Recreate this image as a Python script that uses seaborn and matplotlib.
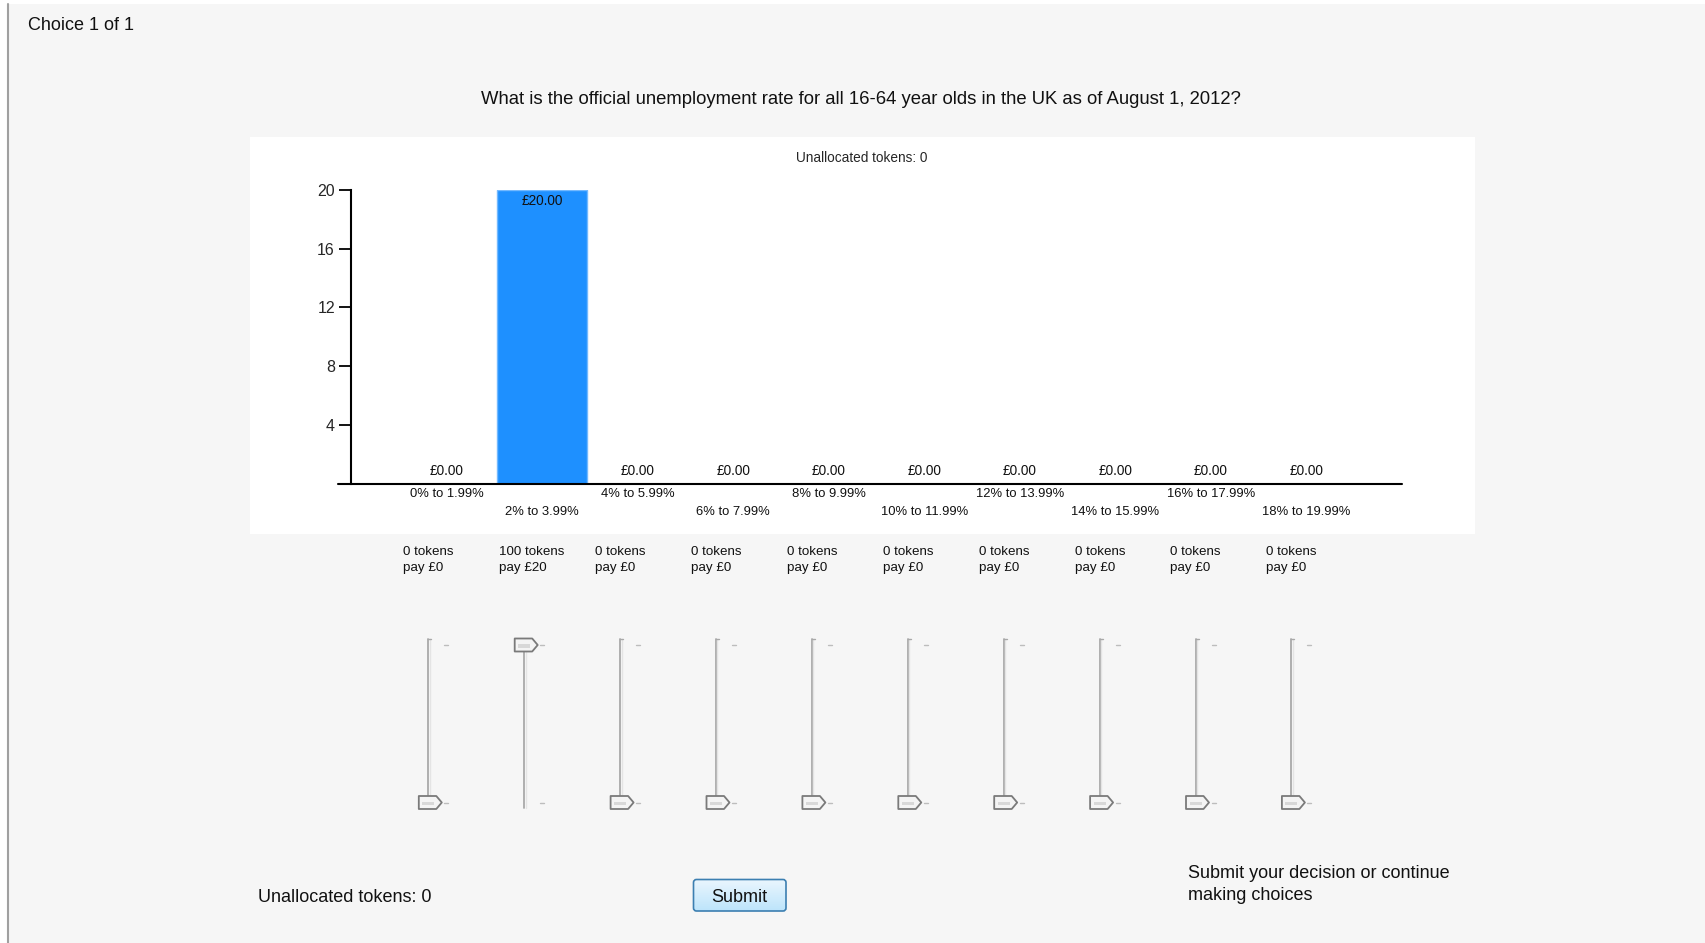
import numpy as np
import pandas as pd
import matplotlib
matplotlib.use('Agg')
import matplotlib.pyplot as plt
import seaborn as sns
from matplotlib.patches import Rectangle, Polygon, FancyBboxPatch

# Veriler
bins = ['0% to 1.99%', '2% to 3.99%', '4% to 5.99%', '6% to 7.99%', '8% to 9.99%',
        '10% to 11.99%', '12% to 13.99%', '14% to 15.99%', '16% to 17.99%', '18% to 19.99%']
tokens = [0, 100, 0, 0, 0, 0, 0, 0, 0, 0]
payout = [0, 20, 0, 0, 0, 0, 0, 0, 0, 0]   # £
y_ticks = [4, 8, 12, 16, 20]
unallocated = 0
question = 'What is the official unemployment rate for all 16-64 year olds in the UK as of August 1, 2012?'

df = pd.DataFrame({'bin': bins, 'payout': payout, 'tokens': tokens})

sns.set_style('white')
plt.rcParams['font.family'] = ['Liberation Sans', 'DejaVu Sans']

W, H = 1705, 943
fig = plt.figure(figsize=(W / 100, H / 100), dpi=100)
fig.patch.set_facecolor('white')

# arka plan (piksel koordinatlari)
bg = fig.add_axes([0, 0, 1, 1])
bg.set_xlim(0, W)
bg.set_ylim(H, 0)
bg.axis('off')
bg.add_patch(Rectangle((8, 4), W - 8, H - 4, facecolor='#f6f6f6', edgecolor='none'))
bg.plot([7.5, 7.5], [4, H], color='#a0a0a0', lw=1.5)
bg.add_patch(Rectangle((250, 137), 1225, 397, facecolor='white', edgecolor='none'))

bg.text(28, 25, 'Choice 1 of 1', fontsize=13, va='center', color='#111111')
bg.text(861, 99, question, fontsize=13.3, ha='center', va='center', color='#111111')
bg.text(862, 158, f'Unallocated tokens: {unallocated}', fontsize=9.8, ha='center', va='center')

# Grafik
ax = fig.add_axes([351 / W, 1 - 483.5 / H, 1051 / W, 293.5 / H])
sns.barplot(data=df, x='bin', y='payout', order=bins, width=0.94, color='#1e90ff',
            saturation=1, edgecolor='#73b9ff', linewidth=1, ax=ax)
ax.set_xlim(-1, 10)
ax.set_ylim(0, 20)
ax.set_facecolor('none')
for s in ['top', 'right', 'bottom']:
    ax.spines[s].set_visible(False)
ax.spines['left'].set_linewidth(1.5)
ax.spines['left'].set_color('black')
ax.axhline(0, xmin=-13 / 1051, xmax=1, color='black', lw=1.5, clip_on=False)
ax.set_yticks(y_ticks)
ax.tick_params(axis='y', length=8.6, width=1.3, pad=3, labelsize=11.5, color='black', left=True)
ax.tick_params(axis='x', length=0, labelbottom=False)
ax.set_xlabel('')
ax.set_ylabel('')

for i, v in enumerate(payout):
    off = -10.5 if v > 0 else 6.3
    ax.annotate(f'£{v:.2f}', (i, v), xytext=(0, off), textcoords='offset points',
                ha='center', va='baseline', fontsize=9.8, color='#111111')
for i, b in enumerate(bins):
    off = -7.8 if i % 2 == 0 else -20.3
    ax.annotate(b, (i, 0), xytext=(0, off), textcoords='offset points',
                ha='center', va='center', fontsize=9.4, annotation_clip=False, color='#111111')

# Kaydiricilar
for i, t in enumerate(tokens):
    tx = 428.3 + 95.9 * i
    p = payout[i]
    bg.text(tx - 25, 552, f'{t} tokens', fontsize=9.6, va='center', color='#111111')
    bg.text(tx - 25, 568.5, f'pay £{p}', fontsize=9.6, va='center', color='#111111')
    yc = 802.5 - 157.5 * t / 100
    bg.plot([tx, tx], [639, 808], color='#a9a9a9', lw=1.3)
    bg.plot([tx + 1.4, tx + 1.4], [639, 808], color='#e4e4e4', lw=1.0)
    bg.plot([tx, tx + 3], [639, 639], color='#a9a9a9', lw=1)
    bg.plot([tx + 16, tx + 20], [645, 645], color='#bdbdbd', lw=1)
    bg.plot([tx + 16, tx + 20], [802.5, 802.5], color='#bdbdbd', lw=1)
    pts = [(tx - 9.5, yc - 6.5), (tx + 8, yc - 6.5), (tx + 13.5, yc), (tx + 8, yc + 6.5), (tx - 9.5, yc + 6.5)]
    bg.add_patch(Polygon(pts, closed=True, facecolor='#f4f4f4', edgecolor='#7a7a7a',
                         lw=1.3, joinstyle='round', zorder=3))
    bg.add_patch(Rectangle((tx - 6, yc - 1), 12, 3.5, facecolor='#d8d8d8', edgecolor='none', zorder=4))

# Alt kisim
bg.text(257.5, 897, f'Unallocated tokens: {unallocated}', fontsize=13, va='center', color='#111111')

btn = FancyBboxPatch((693.5, 879.5), 92.5, 31.5, boxstyle='round,pad=0,rounding_size=3',
                     facecolor='none', edgecolor='#3c7fb1', lw=1.2, zorder=5)
grad = np.linspace(0, 1, 50)[:, None, None]
top_c = np.array([0.92, 0.965, 0.995])
bot_c = np.array([0.74, 0.895, 0.985])
img = top_c * (1 - grad) + bot_c * grad
im = bg.imshow(img, extent=(693.5, 786, 911, 879.5), aspect='auto', zorder=4)
bg.add_patch(btn)
im.set_clip_path(btn)
bg.set_xlim(0, W)
bg.set_ylim(H, 0)
bg.text(739.7, 897, 'Submit', fontsize=13, ha='center', va='center', color='#111111', zorder=6)

bg.text(1188.5, 873, 'Submit your decision or continue', fontsize=13, va='center', color='#111111')
bg.text(1188.5, 896, 'making choices', fontsize=13, va='center', color='#111111')

fig.savefig('out.png', dpi=100)
